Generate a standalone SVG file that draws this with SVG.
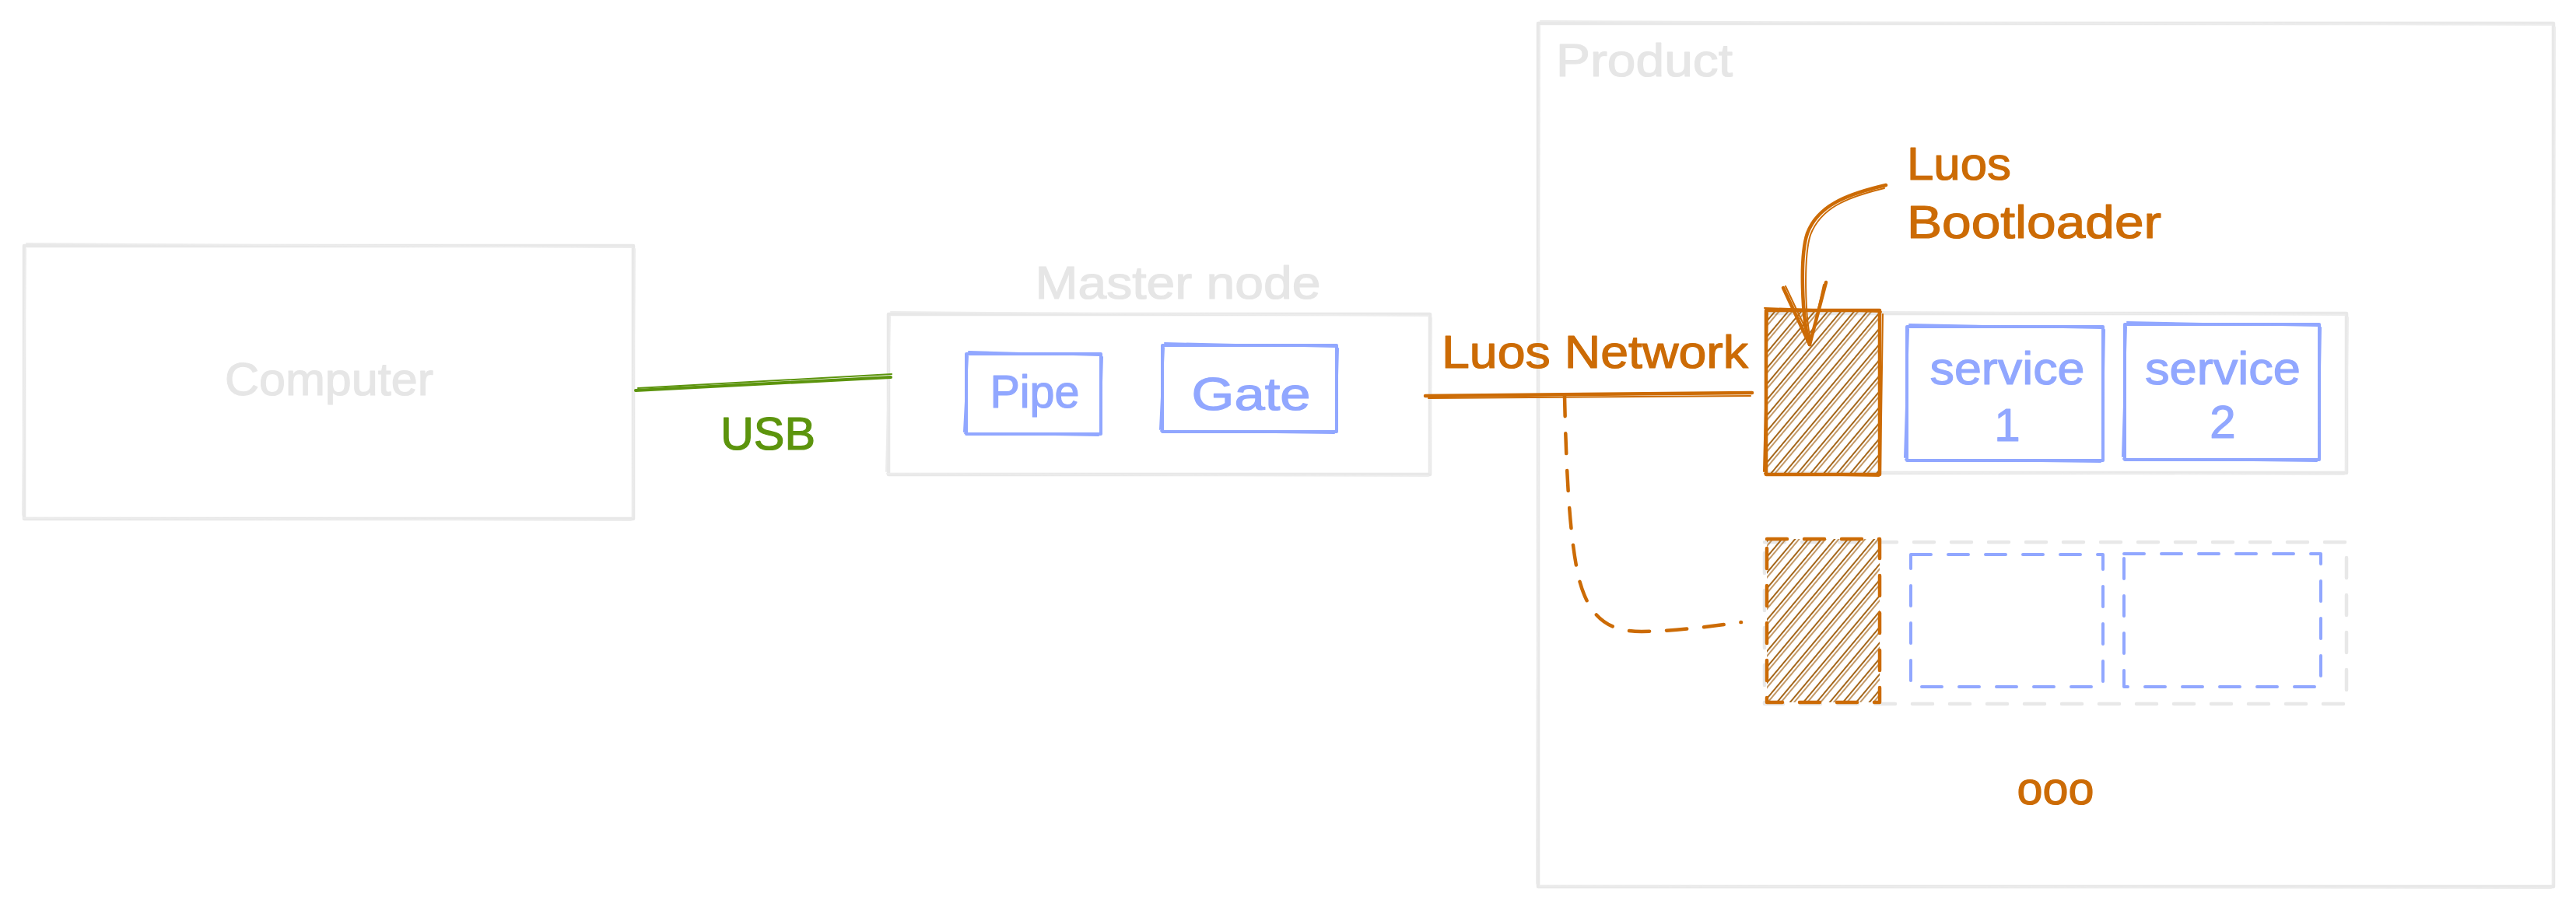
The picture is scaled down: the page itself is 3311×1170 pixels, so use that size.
<svg xmlns="http://www.w3.org/2000/svg" width="3311" height="1170" viewBox="0 0 3311 1170">
<defs>
<style>
.sk{fill:none;stroke-linecap:round;stroke-linejoin:round}
.gray{stroke:#e8e8e8;stroke-width:4.5}
.gray2{stroke:#ececec;stroke-width:2}
.blue{stroke:#91a7ff;stroke-width:4}
.blue2{stroke:#91a7ff;stroke-width:2}
.orng{stroke:#cc6b05;stroke-width:4.5}
.orng2{stroke:#cc6b05;stroke-width:2}
.grn{stroke:#5c940d;stroke-width:4}
.grn2{stroke:#5c940d;stroke-width:2}
.dash{stroke-dasharray:26 22}
.lbl{font-family:"Liberation Sans",Arial,sans-serif;font-size:60px;stroke-width:1.2;stroke-linejoin:round}
.tg{fill:#e6e6e6;stroke:#e6e6e6}
.tb{fill:#91a7ff;stroke:#91a7ff}
.to{fill:#cc6b05;stroke:#cc6b05}
.tgr{fill:#5c940d;stroke:#5c940d}
</style>
<pattern id="hatch" width="13" height="13" patternUnits="userSpaceOnUse" patternTransform="rotate(40)">
<line x1="3" y1="0" x2="3" y2="13" stroke="#9a5400" stroke-width="1.8"/>
<line x1="7" y1="0" x2="7" y2="13" stroke="#9a5400" stroke-width="1.2"/>
</pattern>
</defs>
<rect x="0" y="0" width="3311" height="1170" fill="#ffffff"/>

<g id="product">
<rect class="sk gray" x="1977" y="30" width="1305" height="1110"/>
<path class="sk gray2" d="M1980,27 L3280,32 M3284,35 L3281,1137 M3279,1142 L1979,1139 M1975,1136 L1979,33"/>
<text class="lbl tg" x="2000" y="98" textLength="227" lengthAdjust="spacingAndGlyphs">Product</text>
</g>

<g id="computer">
<rect class="sk gray" x="31" y="316" width="783" height="351"/>
<path class="sk gray2" d="M34,313 L812,318 M816,320 L813,665 M811,669 L30,666 M29,662 L33,320"/>
<text class="lbl tg" x="423" y="508" text-anchor="middle" textLength="268" lengthAdjust="spacingAndGlyphs">Computer</text>
</g>

<g id="master-node">
<rect class="sk gray" x="1142" y="404" width="696" height="206"/>
<path class="sk gray2" d="M1145,401 L1836,406 M1840,409 L1838,608 M1836,612 L1140,609 M1139,606 L1144,407"/>
<text class="lbl tg" x="1514" y="384" text-anchor="middle" textLength="367" lengthAdjust="spacingAndGlyphs">Master node</text>
</g>

<g id="pipe">
<rect class="sk blue" x="1242" y="455" width="173" height="103"/>
<path class="sk blue2" d="M1245,452 L1413,457 M1417,459 L1414,556 M1412,560 L1240,557 M1239,555 L1244,458"/>
<text class="lbl tb" x="1330" y="524" text-anchor="middle" textLength="115" lengthAdjust="spacingAndGlyphs">Pipe</text>
</g>

<g id="gate">
<rect class="sk blue" x="1494" y="444" width="224" height="111"/>
<path class="sk blue2" d="M1497,441 L1716,446 M1720,448 L1717,553 M1715,557 L1492,554 M1491,552 L1496,447"/>
<text class="lbl tb" x="1608" y="527" text-anchor="middle" textLength="153" lengthAdjust="spacingAndGlyphs">Gate</text>
</g>

<g id="row-1">
<rect class="sk gray" x="2270" y="403" width="746" height="205"/>
<path class="sk gray2" d="M2273,400 L3014,405 M3018,408 L3015,606 M3013,610 L2268,607 M2267,604 L2272,406"/>
</g>

<g id="bootloader-1">
<rect x="2270" y="399" width="146" height="211" fill="url(#hatch)"/>
<rect class="sk orng" x="2270" y="399" width="146" height="211"/>
<path class="sk orng2" d="M2268,396 L2418,401 M2420,404 L2417,608 M2415,612 L2268,609 M2267,606 L2272,402"/>
</g>

<g id="service-1">
<rect class="sk blue" x="2451" y="420" width="252" height="172"/>
<path class="sk blue2" d="M2454,417 L2701,422 M2705,424 L2702,590 M2700,594 L2449,591 M2448,588 L2453,423"/>
<text class="lbl tb" x="2580" y="494" text-anchor="middle" textLength="199" lengthAdjust="spacingAndGlyphs">service</text>
<text class="lbl tb" x="2580" y="567" text-anchor="middle">1</text>
</g>

<g id="service-2">
<rect class="sk blue" x="2731" y="417" width="250" height="174"/>
<path class="sk blue2" d="M2734,414 L2979,419 M2983,421 L2980,589 M2978,593 L2729,590 M2728,587 L2733,420"/>
<text class="lbl tb" x="2857" y="494" text-anchor="middle" textLength="200" lengthAdjust="spacingAndGlyphs">service</text>
<text class="lbl tb" x="2857" y="563" text-anchor="middle">2</text>
</g>

<g id="row-2">
<rect class="sk gray dash" x="2268" y="697" width="748" height="208"/>
</g>

<g id="bootloader-2">
<rect x="2271" y="693" width="145" height="210" fill="url(#hatch)"/>
<rect class="sk orng dash" x="2271" y="693" width="145" height="210"/>
</g>

<g id="service-3">
<rect class="sk blue dash" x="2456" y="713" width="247" height="170"/>
</g>

<g id="service-4">
<rect class="sk blue dash" x="2730" y="712" width="253" height="171"/>
</g>

<g id="more">
<text class="lbl to" x="2642" y="1034" text-anchor="middle" textLength="99" lengthAdjust="spacingAndGlyphs">ooo</text>
</g>

<g id="connectors">
<path class="sk grn" d="M817,502 L1145,485"/>
<path class="sk grn2" d="M820,499 L1146,481"/>
<path class="sk orng" d="M1832,509 L2252,505"/>
<path class="sk orng2" d="M1836,512 L2250,509"/>
<path class="sk orng dash" d="M2011,509 C2013,600 2017,690 2029,742 C2042,795 2068,812 2110,812 C2160,811 2200,805 2238,800"/>
<path class="sk orng" d="M2424,238 C2372,250 2336,265 2323,300 C2313,330 2316,410 2326,443"/>
<path class="sk orng2" d="M2422,242 C2372,254 2340,268 2327,302 C2318,330 2320,410 2328,440"/>
<path class="sk orng" d="M2292,370 L2326,443 L2347,363"/>
<path class="sk orng2" d="M2295,368 L2328,438 L2344,366"/>
</g>

<g id="labels">
<text class="lbl tgr" x="987" y="578" text-anchor="middle" textLength="122" lengthAdjust="spacingAndGlyphs">USB</text>
<text class="lbl to" x="2050" y="473" text-anchor="middle" textLength="394" lengthAdjust="spacingAndGlyphs">Luos Network</text>
<text class="lbl to" x="2451" y="231" textLength="134" lengthAdjust="spacingAndGlyphs">Luos</text>
<text class="lbl to" x="2451" y="306" textLength="327" lengthAdjust="spacingAndGlyphs">Bootloader</text>
</g>
</svg>
